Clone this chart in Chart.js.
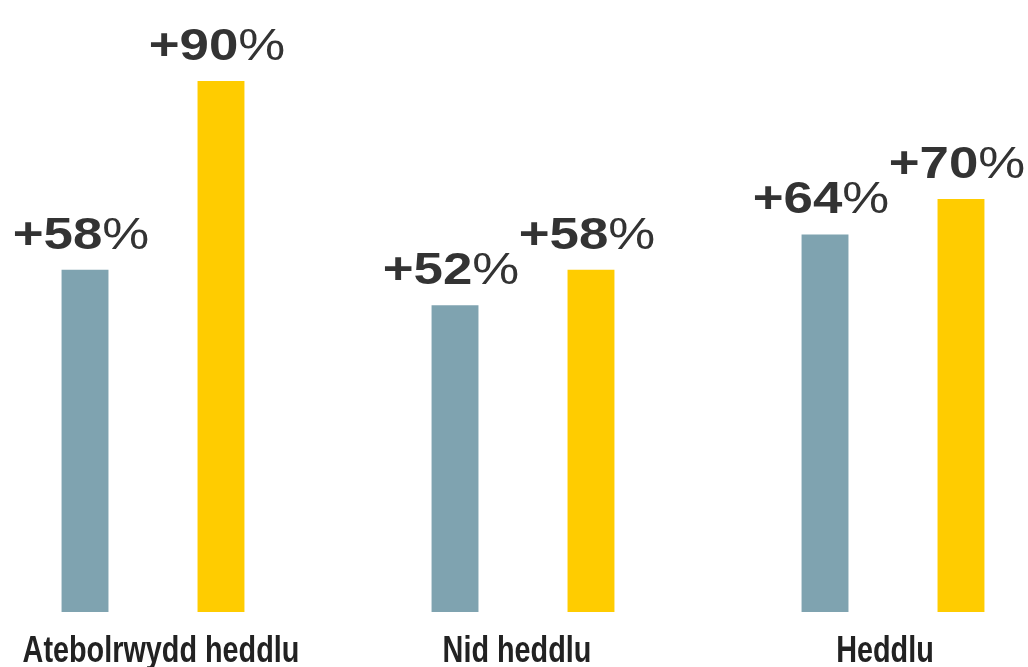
<!DOCTYPE html>
<html>
<head>
<meta charset="utf-8">
<script src="https://cdn.jsdelivr.net/npm/chart.js@4/dist/chart.umd.min.js"></script>
<style>
html,body{margin:0;padding:0;background:#fff;overflow:hidden;width:1028px;height:667px;}
#wrap{position:absolute;left:-32px;top:0;width:1110px;height:667px;}
</style>
</head>
<body>
<div id="wrap"><canvas id="c" width="1110" height="667"></canvas></div>
<script>
const categories = ["Atebolrwydd heddlu", "Nid heddlu", "Heddlu"];
const seriesA = [58, 52, 64];
const seriesB = [90, 58, 70];
const labelsA = ["+58", "+52", "+64"];
const labelsB = ["+90", "+58", "+70"];
const colorA = "#7fa3b0";
const colorB = "#ffcc00";

const valueLabels = {
  id: "valueLabels",
  afterDatasetsDraw(chart) {
    const ctx = chart.ctx;
    const texts = [labelsA, labelsB];
    chart.data.datasets.forEach((ds, di) => {
      const meta = chart.getDatasetMeta(di);
      meta.data.forEach((bar, i) => {
        const main = texts[di][i];
        const sx = 1.2;
        ctx.save();
        ctx.fillStyle = "#333333";
        ctx.textBaseline = "alphabetic";
        ctx.textAlign = "left";
        ctx.font = "bold 44px 'Liberation Sans', Arial, sans-serif";
        const w1 = ctx.measureText(main).width;
        ctx.font = "normal 44px 'Liberation Sans', Arial, sans-serif";
        const w2 = ctx.measureText("%").width;
        const total = (w1 + w2) * sx;
        const cx = bar.x - 4;
        const by = bar.y - 21;
        ctx.translate(cx - total / 2, by);
        ctx.scale(sx, 1);
        ctx.font = "bold 44px 'Liberation Sans', Arial, sans-serif";
        ctx.fillText(main, 0, 0);
        ctx.font = "normal 44px 'Liberation Sans', Arial, sans-serif";
        ctx.fillText("%", w1, 0);
        ctx.restore();
      });
    });
  }
};

const categoryLabels = {
  id: "categoryLabels",
  afterDraw(chart) {
    const ctx = chart.ctx;
    const xs = chart.scales.x;
    const sx = 0.8;
    const nudge = [8, -6, -8];
    ctx.save();
    ctx.fillStyle = "#222222";
    ctx.font = "bold 36px 'Liberation Sans', Arial, sans-serif";
    ctx.textBaseline = "alphabetic";
    ctx.textAlign = "center";
    chart.data.labels.forEach((lab, i) => {
      const x = xs.getPixelForValue(i) + nudge[i];
      const y = chart.chartArea.bottom + 50;
      ctx.save();
      ctx.translate(x, y);
      ctx.scale(sx, 1);
      ctx.fillText(lab, 0, 0);
      ctx.restore();
    });
    ctx.restore();
  }
};

new Chart(document.getElementById("c"), {
  type: "bar",
  data: {
    labels: categories,
    datasets: [
      { data: seriesA, backgroundColor: colorA, categoryPercentage: 0.735, barPercentage: 0.345 },
      { data: seriesB, backgroundColor: colorB, categoryPercentage: 0.735, barPercentage: 0.345 }
    ]
  },
  options: {
    responsive: false,
    animation: false,
    events: [],
    layout: { padding: { top: 22, bottom: 55, left: 0, right: 0 } },
    plugins: { legend: { display: false }, tooltip: { enabled: false } },
    scales: {
      y: { display: false, min: 0, max: 100 },
      x: { display: false }
    }
  },
  plugins: [valueLabels, categoryLabels]
});
</script>
</body>
</html>
